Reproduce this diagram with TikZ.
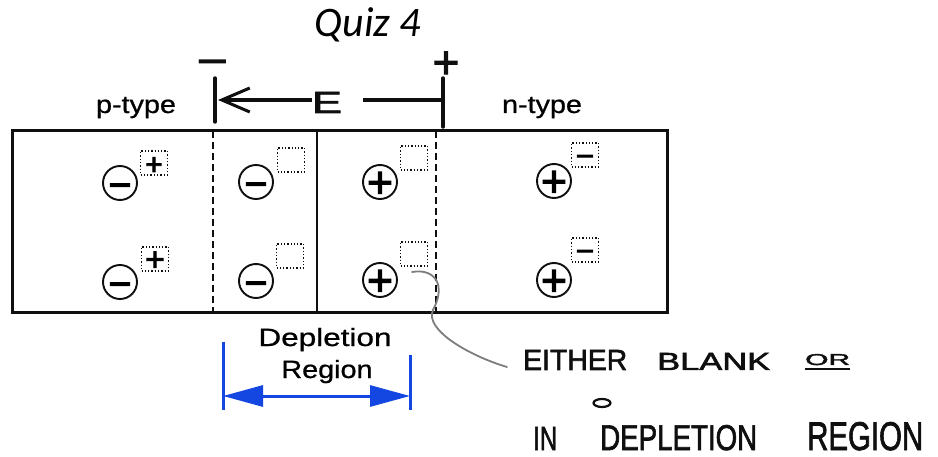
\documentclass[tikz,border=0pt]{standalone}
\usepackage{graphicx}
\usepackage{fontspec}
\setmainfont{Liberation Sans}
\newfontfamily\quizfont{Carlito}
\newfontfamily\handfont[FakeBold=2]{Liberation Sans}
\newfontfamily\signfont[FakeBold=3]{Liberation Sans}
\newfontfamily\labelfont[FakeBold=0.7]{Liberation Sans}
\newcommand\ctrsign[1]{\makebox[0pt]{\raisebox{-0.35em}[0pt][0pt]{#1}}}
\usetikzlibrary{arrows.meta,shapes.geometric}
\definecolor{dimblue}{RGB}{20,70,225}
\definecolor{pencil}{RGB}{125,125,125}
\definecolor{ink}{RGB}{15,15,15}
\begin{document}
\begin{tikzpicture}[x=1pt,y=-1pt,
  charge/.style={circle,draw=ink,line width=1.9pt,minimum size=34pt,inner sep=0pt,
    font=\signfont\fontsize{44}{44}\selectfont},
  pocket/.style={draw=ink,dotted,line width=1.3pt,minimum width=27pt,minimum height=24pt,
    inner sep=0pt,font=\signfont\fontsize{33}{33}\selectfont},
  label/.style={inner sep=0pt,anchor=base,font=\labelfont\fontsize{25}{30}\selectfont},
  hand/.style={inner sep=0pt,anchor=base west,text=ink,font=\handfont},
  handline/.style={draw=ink,line width=3.4pt,line cap=round},
  junction/.style={draw=ink,line width=1.6pt},
  boundary/.style={draw=ink,line width=1.6pt,dash pattern=on 7pt off 4pt},
  dimline/.style={draw=dimblue,line width=3pt}]
\useasboundingbox (0,0) rectangle (938,457);
\fill[white] (0,0) rectangle (938,457);

% title
\node[inner sep=0pt,anchor=base,font=\quizfont\itshape\fontsize{42}{42}\selectfont] (title) at (368,37) {Quiz 4};

% region labels
\node[label] (ptype) at (136,113) {\scalebox{1.15}[1]{p-type}};
\node[label] (ntype) at (542,113) {\scalebox{1.15}[1]{n-type}};

% crystal bar
\draw[draw=ink,line width=3pt] (12,131) rectangle (667,313);
\coordinate (b1t) at (213,131); \coordinate (b1b) at (213,313);
\coordinate (jt) at (317,131);  \coordinate (jb) at (317,313);
\coordinate (b2t) at (436,131); \coordinate (b2b) at (436,313);
\draw[boundary] (b1t) -- (b1b);
\draw[junction] (jt) -- (jb);
\draw[boundary] (b2t) -- (b2b);

% ions
\node[charge] (c11) at (120,183) {\ctrsign{\scalebox{0.9}{−}}};
\node[charge] (c12) at (120,282) {\ctrsign{\scalebox{0.9}{−}}};
\node[charge] (c21) at (256,182) {\ctrsign{\scalebox{0.9}{−}}};
\node[charge] (c22) at (256,281) {\ctrsign{\scalebox{0.9}{−}}};
\node[charge] (c31) at (380,182) {\ctrsign{+}};
\node[charge] (c32) at (380,280) {\ctrsign{+}};
\node[charge] (c41) at (554,181) {\ctrsign{+}};
\node[charge] (c42) at (554,280) {\ctrsign{+}};

% carrier pockets
\node[pocket] (s11) at (154,163) {\ctrsign{\scalebox{0.9}{+}}};
\node[pocket] (s12) at (155,259) {\ctrsign{+}};
\node[pocket] (s21) at (291,160) {};
\node[pocket] (s22) at (290,256) {};
\node[pocket] (s31) at (414,158) {};
\node[pocket] (s32) at (414,254) {};
\node[pocket] (s41) at (585,155) {\ctrsign{\scalebox{0.95}{−}}};
\node[pocket] (s42) at (585,250) {\ctrsign{\scalebox{0.95}{−}}};

% electric field (handwritten)
\coordinate (lbt) at (215,78); \coordinate (lbb) at (215,122);
\coordinate (rbt) at (443,78); \coordinate (rbb) at (443,127);
\coordinate (ltip) at (218,100); \coordinate (rtip) at (443,100);
\draw[handline] (lbt) -- (lbb);
\draw[handline] (rbt) -- (rbb);
\node[inner sep=0pt,text=ink,font=\handfont\fontsize{30}{30}\selectfont] (E) at (327,102.5) {\resizebox{30pt}{21pt}{E}};
\draw[handline,line cap=butt,-{Straight Barb[length=28pt,width=24pt,line width=3pt]}] (E.west |- ltip) -- (ltip);
\draw[handline,line cap=butt] ([xshift=21pt]E.east |- rtip) -- (rtip);
\node[inner sep=0pt,text=ink,font=\fontsize{56}{56}\selectfont] (neg) at (213,61) {\ctrsign{−}};
\node[inner sep=0pt,text=ink,font=\handfont\fontsize{46}{46}\selectfont] (pos) at (446,62) {\ctrsign{+}};

% depletion region dimension
\node[label] (dep1) at (325,346) {\scalebox{1.26}[1]{Depletion}};
\node[label] (dep2) at (327,378) {\scalebox{1.15}[1]{Region}};
\coordinate (dlt) at (223,342); \coordinate (dlb) at (223,410);
\coordinate (drt) at (410,355); \coordinate (drb) at (410,410);
\coordinate (dl) at (223,396); \coordinate (dr) at (410,396);
\draw[dimline] (dlt) -- (dlb);
\draw[dimline] (drt) -- (drb);
\draw[dimline,{Triangle[length=40pt,width=21pt]}-{Triangle[length=40pt,width=21pt]}] (dl) -- (dr);

% handwritten note
\node[hand] (w1) at (523,370) {\resizebox{104pt}{20pt}{EITHER}};
\node[hand] (w2) at (657,370) {\resizebox{113pt}{17pt}{BLANK}};
\node[hand] (w3) at (805,365) {\resizebox{45pt}{11pt}{OR}};
\draw[draw=ink,line width=2.2pt] ([yshift=-3.5pt]w3.south west) -- ([yshift=-3.5pt]w3.south east);
\node[draw=ink,line width=2.2pt,ellipse,minimum width=17pt,minimum height=8pt,inner sep=0pt] (hole) at (602,403) {};
\node[hand] (w4) at (533,450) {\resizebox{24pt}{23pt}{IN}};
\node[hand] (w5) at (600,450) {\resizebox{157pt}{25pt}{DEPLETION}};
\node[hand] (w6) at (807,450) {\resizebox{116pt}{28pt}{REGION}};

% pencil pointer
\coordinate (pstart) at (412,272);
\coordinate (pend) at (507,367);
\draw[draw=pencil,line width=1.8pt,line cap=round] (pstart) .. controls (436,268) and (446,286) .. (433,310) .. controls (424,330) and (470,356) .. (pend);
\end{tikzpicture}
\end{document}
